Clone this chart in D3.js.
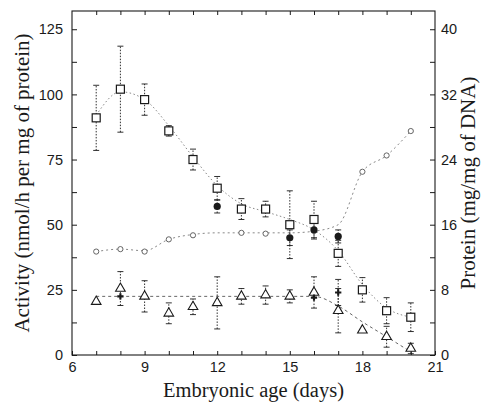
<!DOCTYPE html>
<html>
<head>
<meta charset="utf-8">
<script src="https://cdn.jsdelivr.net/npm/d3@7/dist/d3.min.js"></script>
<style>
  body { margin: 0; background: #fff; }
  svg { display: block; }
</style>
</head>
<body>
<div id="chart"></div>
<script>
// Embryonalalter (Tage)
const days = [7, 8, 9, 10, 11, 12, 13, 14, 15, 16, 17, 18, 19, 20];

// Aktivität, offene Quadrate (+/- Fehler)
const squareAct = [91, 102, 98, 86, 75, 64, 56, 56, 50, 52, 39, 25, 17, 14.5];
const squareErr = [12.5, 16.5, 6, 2, 4, 4.5, 4, 3, 13, 7, 5, 4.7, 5, 5.5];
// Kurve durch die Quadrate
const squareFit = [92, 101, 98, 88, 76, 65, 58, 55, 52, 48, 40, 27, 18, 14.5];

// Aktivität, Dreiecke
const triAct = [20.5, 25.5, 22.5, 16, 18.5, 20, 22.5, 23, 22.5, 24, 17, 9.5, 7, 2.5];
const triErr = [0, 6.5, 6, 4, 3, 10, 3, 3.5, 2.5, 6, 8.5, 0, 4, 2];
const triFitDays = [7, 16, 17, 18, 19, 20];
const triFit = [22.5, 22.5, 18.8, 12.7, 7, 1.2];

// Aktivität, gefüllte Punkte
const dotDays = [12, 15, 16, 17];
const dotAct = [57, 45, 48, 45.5];
const dotErr = [2.5, 3, 3.5, 2.5];

// Einzelne Kreuze
const crossDays = [8, 16, 17];
const crossAct = [22.5, 22, 24];
const crossErr = [0, 0, 5];

// Protein (mg/mg DNA), rechte Achse
const protDays = [7, 8, 9, 10, 11, 13, 14, 16, 18, 19, 20];
const protein = [12.7, 13, 12.7, 14.2, 14.7, 15, 14.9, 15.3, 22.5, 24.5, 27.5];
const protFit = [12.7, 13, 12.8, 14.2, 14.8, 15, 15, 15, 15, 15.2, 16, 22.5, 24.5, 27.5];

// Achsen
const xTicks = d3.range(6, 22, 1);
const leftTicks = d3.range(0, 126, 12.5);
const rightTicks = d3.range(0, 41, 4);
const topActivity = 132;

const width = 490, height = 402;
const mLeft = 72, mRight = 435, mTop = 11, mBottom = 355;

const svg = d3.select("#chart").append("svg")
  .attr("width", width)
  .attr("height", height);

const x = d3.scaleLinear().domain([6, 21]).range([mLeft, mRight]);
const y = d3.scaleLinear().domain([0, topActivity]).range([mBottom, mTop]);
const yR = d3.scaleLinear().domain([0, topActivity * 40 / 125]).range([mBottom, mTop]);

const sans = "'Liberation Sans', Arial, sans-serif";
const serif = "'Liberation Serif', 'Times New Roman', serif";
const ink = "#1a1a1a";

// Rahmen
svg.append("rect")
  .attr("x", mLeft).attr("y", mTop)
  .attr("width", mRight - mLeft).attr("height", mBottom - mTop)
  .attr("fill", "none").attr("stroke", ink).attr("stroke-width", 1.1);

function styleAxis(g) {
  g.select(".domain").remove();
  g.selectAll("line").attr("stroke", ink);
  g.selectAll("text").style("font-family", sans).style("font-size", "14.5px").attr("fill", ink);
}

svg.append("g")
  .attr("transform", `translate(${mLeft},0)`)
  .call(d3.axisLeft(y).tickValues(leftTicks).tickSizeInner(-5).tickSizeOuter(0).tickPadding(9)
    .tickFormat(d => d % 25 === 0 ? d : ""))
  .call(styleAxis);

svg.append("g")
  .attr("transform", `translate(${mRight},0)`)
  .call(d3.axisRight(yR).tickValues(rightTicks).tickSizeInner(-5).tickSizeOuter(0).tickPadding(6)
    .tickFormat(d => d % 8 === 0 ? d : ""))
  .call(styleAxis);

svg.append("g")
  .attr("transform", `translate(0,${mBottom})`)
  .call(d3.axisBottom(x).tickValues(xTicks).tickSizeInner(-4).tickSizeOuter(0).tickPadding(7)
    .tickFormat(d => d % 3 === 0 ? d : ""))
  .call(styleAxis);

svg.append("g")
  .attr("transform", `translate(0,${mTop})`)
  .call(d3.axisTop(x).tickValues(xTicks.slice(1, -1)).tickSizeInner(-4).tickSizeOuter(0).tickFormat(""))
  .call(styleAxis);

// Achsentitel
svg.append("text")
  .attr("x", (mLeft + mRight) / 2)
  .attr("y", 397)
  .attr("text-anchor", "middle")
  .style("font-family", serif).style("font-size", "20.5px").attr("fill", ink)
  .text("Embryonic age (days)");

svg.append("text")
  .attr("transform", `translate(29,${(mTop + mBottom) / 2}) rotate(-90)`)
  .attr("text-anchor", "middle")
  .style("font-family", serif).style("font-size", "21px").attr("fill", ink)
  .text("Activity (nmol/h per mg of protein)");

svg.append("text")
  .attr("transform", `translate(475,${(mTop + mBottom) / 2}) rotate(-90)`)
  .attr("text-anchor", "middle")
  .style("font-family", serif).style("font-size", "21px").attr("fill", ink)
  .text("Protein (mg/mg of DNA)");

// Kurven
const plot = svg.append("g");

const lineAct = d3.line().x(d => x(d[0])).y(d => y(d[1])).curve(d3.curveMonotoneX);
const lineProt = d3.line().x(d => x(d[0])).y(d => yR(d[1])).curve(d3.curveMonotoneX);

plot.append("path")
  .attr("d", lineAct(d3.zip(days, squareFit)))
  .attr("fill", "none").attr("stroke", "#888").attr("stroke-width", 1)
  .attr("stroke-dasharray", "1.5,2.5");

plot.append("path")
  .attr("d", lineProt(d3.zip(days, protFit)))
  .attr("fill", "none").attr("stroke", "#888").attr("stroke-width", 1)
  .attr("stroke-dasharray", "2,3");

plot.append("path")
  .attr("d", lineAct(d3.zip(triFitDays, triFit)))
  .attr("fill", "none").attr("stroke", "#666").attr("stroke-width", 1)
  .attr("stroke-dasharray", "3,3");

// Fehlerbalken
function errorBars(xs, vals, errs) {
  const data = d3.zip(xs, vals, errs).filter(d => d[2] > 0);
  const g = plot.append("g").attr("stroke", ink).attr("stroke-width", 0.9);
  g.selectAll("line.v").data(data).enter().append("line")
    .attr("x1", d => x(d[0])).attr("x2", d => x(d[0]))
    .attr("y1", d => y(d[1] - d[2])).attr("y2", d => y(d[1] + d[2]))
    .attr("stroke-dasharray", "1.5,1.5");
  [-1, 1].forEach(s => {
    g.selectAll(null).data(data).enter().append("line")
      .attr("x1", d => x(d[0]) - 3).attr("x2", d => x(d[0]) + 3)
      .attr("y1", d => y(d[1] + s * d[2])).attr("y2", d => y(d[1] + s * d[2]));
  });
}

errorBars(days, squareAct, squareErr);
errorBars(days, triAct, triErr);
errorBars(dotDays, dotAct, dotErr);
errorBars(crossDays, crossAct, crossErr);

// Protein-Kreise
plot.selectAll(".prot").data(d3.zip(protDays, protein)).enter()
  .append("circle")
  .attr("cx", d => x(d[0])).attr("cy", d => yR(d[1]))
  .attr("r", 2.6)
  .attr("fill", "#fff").attr("stroke", "#555").attr("stroke-width", 0.9);

// Quadrate
plot.selectAll(".sq").data(d3.zip(days, squareAct)).enter()
  .append("rect")
  .attr("x", d => x(d[0]) - 4).attr("y", d => y(d[1]) - 4)
  .attr("width", 8).attr("height", 8)
  .attr("fill", "#fff").attr("stroke", ink).attr("stroke-width", 1.2);

// Dreiecke
const tri = d3.symbol().type(d3.symbolTriangle).size(40);
plot.selectAll(".tri").data(d3.zip(days, triAct)).enter()
  .append("path")
  .attr("d", tri)
  .attr("transform", d => `translate(${x(d[0])},${y(d[1])})`)
  .attr("fill", "#fff").attr("stroke", ink).attr("stroke-width", 1.1);

// Gefüllte Punkte
plot.selectAll(".dot").data(d3.zip(dotDays, dotAct)).enter()
  .append("circle")
  .attr("cx", d => x(d[0])).attr("cy", d => y(d[1]))
  .attr("r", 3.6)
  .attr("fill", ink);

// Kreuze
const cross = d3.symbol().type(d3.symbolCross).size(22);
plot.selectAll(".cross").data(d3.zip(crossDays, crossAct)).enter()
  .append("path")
  .attr("d", cross)
  .attr("transform", d => `translate(${x(d[0])},${y(d[1])})`)
  .attr("fill", ink);
</script>
</body>
</html>
